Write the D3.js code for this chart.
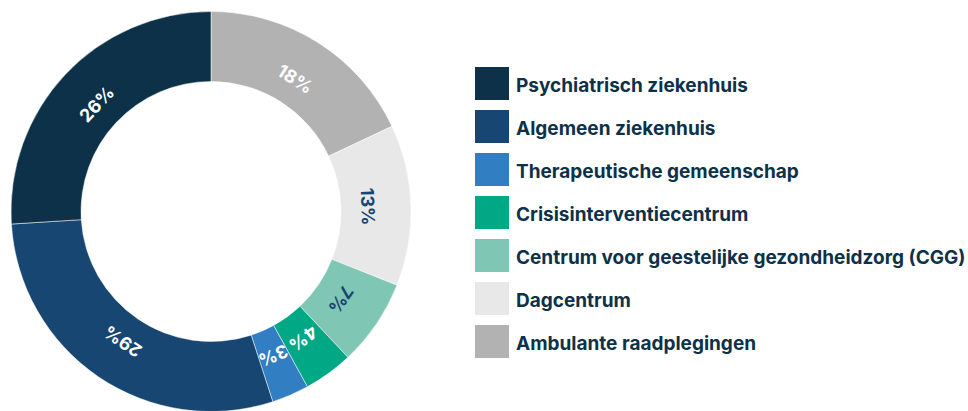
<!DOCTYPE html>
<html>
<head>
<meta charset="utf-8">
<script src="https://cdn.jsdelivr.net/npm/d3@7"></script>
<style>
html,body{margin:0;padding:0;background:#fff;}
svg{display:block;}
</style>
</head>
<body>
<svg id="chart" width="968" height="411"></svg>
<script>
// Data (pie order: clockwise from 12 o'clock)
const categories = ["Ambulante raadplegingen","Dagcentrum","Centrum voor geestelijke gezondheidzorg (CGG)","Crisisinterventiecentrum","Therapeutische gemeenschap","Algemeen ziekenhuis","Psychiatrisch ziekenhuis"];
const values = [18, 13, 7, 4, 3, 29, 26];
const colors = ["#b2b2b2","#e8e8e8","#80c6b4","#00a885","#317ec2","#174673","#0d3149"];
const labelColors = ["#ffffff","#174673","#174673","#ffffff","#ffffff","#ffffff","#ffffff"];
// Legend order (top to bottom)
const legendOrder = ["Psychiatrisch ziekenhuis","Algemeen ziekenhuis","Therapeutische gemeenschap","Crisisinterventiecentrum","Centrum voor geestelijke gezondheidzorg (CGG)","Dagcentrum","Ambulante raadplegingen"];

const svg = d3.select("#chart");
const cx = 211, cy = 211.5, R = 200, r = 130, rLabel = 157;
const fontFam = "Inter, 'Open Sans', sans-serif";

const data = categories.map((c,i)=>({cat:c, value:values[i], color:colors[i], lc:labelColors[i]}));
const pie = d3.pie().sort(null).value(d=>d.value);
const arc = d3.arc().innerRadius(r).outerRadius(R);
const arcs = pie(data);
const g = svg.append("g").attr("transform",`translate(${cx},${cy})`);
g.selectAll("path").data(arcs).join("path")
  .attr("d",arc).attr("fill",d=>d.data.color)
  .attr("stroke","#ffffff").attr("stroke-width",0.5);

g.selectAll("text").data(arcs).join("text")
  .attr("transform",d=>{
    const a=(d.startAngle+d.endAngle)/2;
    const x=Math.sin(a)*rLabel, y=-Math.cos(a)*rLabel;
    return `translate(${x},${y}) rotate(${a*180/Math.PI})`;
  })
  .attr("text-anchor","middle").attr("dominant-baseline","central")
  .attr("font-family",fontFam).attr("font-weight",700).attr("font-size",18)
  .attr("fill",d=>d.data.lc)
  .text(d=>d.data.value+"%");

const colorOf = c => colors[categories.indexOf(c)];
const leg = svg.append("g");
const items = leg.selectAll("g").data(legendOrder).join("g")
  .attr("transform",(d,i)=>`translate(475,${67+i*43})`);
items.append("rect").attr("width",34).attr("height",33).attr("fill",d=>colorOf(d));
items.append("text").attr("x",41).attr("y",24.5)
  .attr("font-family",fontFam).attr("font-weight",700).attr("font-size",19)
  .attr("fill","#0d3149").text(d=>d);
</script>
</body>
</html>
